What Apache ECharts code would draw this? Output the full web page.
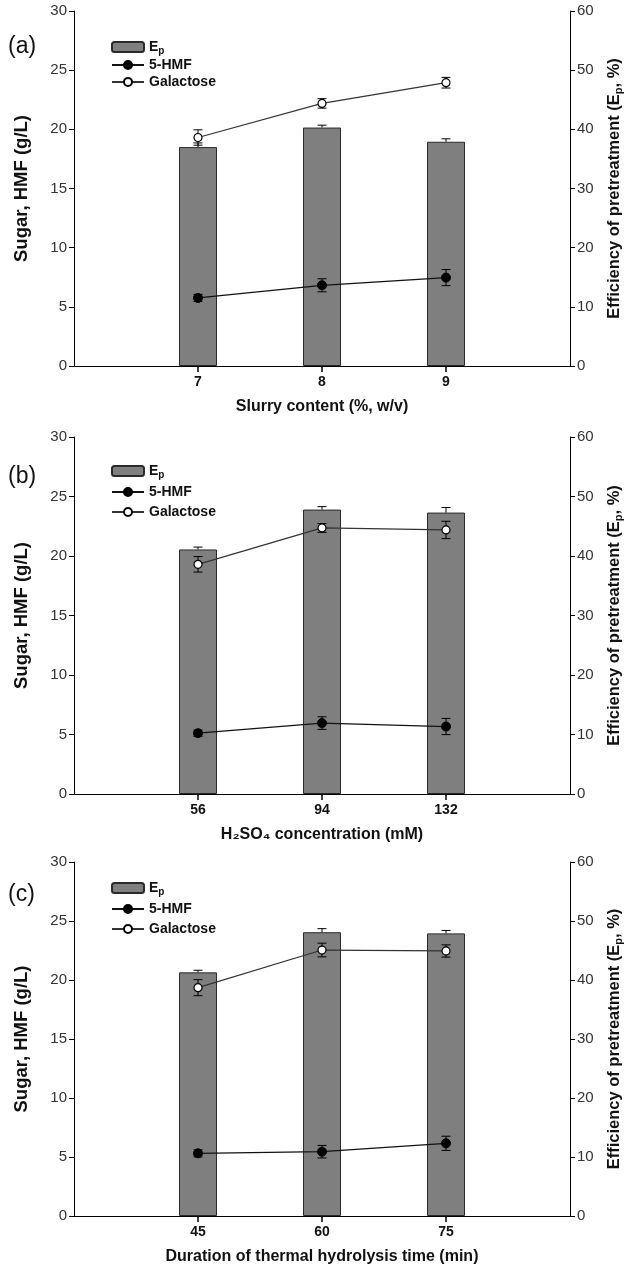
<!DOCTYPE html>
<html><head><meta charset="utf-8">
<script src="https://cdn.jsdelivr.net/npm/echarts@6/dist/echarts.min.js"></script>
<style>html,body{margin:0;padding:0;background:#fff}#c{width:632px;height:1268px}</style>
</head><body><div id="c"></div>
<script>
// ---- data ----
const catA = ['7', '8', '9'];
const catB = ['56', '94', '132'];
const catC = ['45', '60', '75'];
const xNameA = 'Slurry content (%, w/v)';
const xNameB = 'H\u2082SO\u2084 concentration (mM)';
const xNameC = 'Duration of thermal hydrolysis time (min)';
const panelLabels = ['(a)', '(b)', '(c)'];
const leftTicks = [0, 5, 10, 15, 20, 25, 30];
const rightTicks = [0, 10, 20, 30, 40, 50, 60];

const epA = [37.0, 40.3, 37.9];
const epErrA = [0.7, 0.4, 0.5];
const hmfA = [5.75, 6.82, 7.47];
const hmfErrA = [0.3, 0.55, 0.68];
const galA = [19.31, 22.19, 23.94];
const galErrA = [0.65, 0.4, 0.45];

const epB = [41.1, 47.8, 47.3];
const epErrB = [0.4, 0.5, 0.85];
const hmfB = [5.11, 5.96, 5.67];
const hmfErrB = [0.27, 0.53, 0.68];
const galB = [19.3, 22.36, 22.19];
const galErrB = [0.65, 0.37, 0.73];

const epC = [41.3, 48.1, 47.9];
const epErrC = [0.35, 0.6, 0.5];
const hmfC = [5.31, 5.45, 6.16];
const hmfErrC = [0.3, 0.53, 0.6];
const galC = [19.35, 22.54, 22.46];
const galErrC = [0.68, 0.58, 0.52];

// ---- build ----
const FONT = "'Liberation Sans', Arial, sans-serif";
const panels = [
  {cats: catA, xName: xNameA, ep: epA, epErr: epErrA, hmf: hmfA, hmfErr: hmfErrA, gal: galA, galErr: galErrA, top: 11, height: 355, legTop: 39, legGap: 1, lab: 35},
  {cats: catB, xName: xNameB, ep: epB, epErr: epErrB, hmf: hmfB, hmfErr: hmfErrB, gal: galB, galErr: galErrB, top: 437, height: 357, legTop: 463, legGap: 4, lab: 465},
  {cats: catC, xName: xNameC, ep: epC, epErr: epErrC, hmf: hmfC, hmfErr: hmfErrC, gal: galC, galErr: galErrC, top: 862, height: 354, legTop: 880, legGap: 4, lab: 883}
];

const pad = arr => [null].concat(arr, [null]);

function errRender(topOnly) {
  return function (params, api) {
    const x = api.value(0), lo = api.value(1), hi = api.value(2);
    const p1 = api.coord([x, lo]), p2 = api.coord([x, hi]);
    const w = 4.5;
    const st = {stroke: '#000', lineWidth: 1};
    const ch = [
      {type: 'line', shape: {x1: p1[0], y1: p1[1], x2: p2[0], y2: p2[1]}, style: st},
      {type: 'line', shape: {x1: p2[0] - w, y1: p2[1], x2: p2[0] + w, y2: p2[1]}, style: st}
    ];
    if (!topOnly) ch.push({type: 'line', shape: {x1: p1[0] - w, y1: p1[1], x2: p1[0] + w, y2: p1[1]}, style: st});
    return {type: 'group', children: ch};
  };
}

const grid = [], xAxis = [], yAxis = [], series = [], legend = [], graphic = [];
panels.forEach((p, k) => {
  grid.push({left: 74, width: 499, top: p.top, height: p.height});
  xAxis.push({
    type: 'category', gridIndex: k, data: [''].concat(p.cats, ['']), boundaryGap: false,
    axisLine: {lineStyle: {color: '#000', width: 1}},
    axisTick: {length: 6, interval: (i) => i >= 1 && i <= 3, lineStyle: {color: '#000', width: 1.5}},
    axisLabel: {color: '#111', fontFamily: FONT, fontWeight: 'bold', fontSize: 14, margin: 9, interval: 0},
    name: p.xName, nameLocation: 'middle', nameGap: 33,
    nameTextStyle: {color: '#111', fontFamily: FONT, fontWeight: 'bold', fontSize: 16},
    splitLine: {show: false}
  });
  yAxis.push({
    type: 'value', gridIndex: k, position: 'left', min: leftTicks[0], max: leftTicks[leftTicks.length - 1], interval: leftTicks[1] - leftTicks[0],
    axisLine: {show: true, lineStyle: {color: '#000'}},
    axisTick: {show: true, length: 5, lineStyle: {color: '#000'}},
    axisLabel: {color: '#333', fontFamily: "'Liberation Sans Narrow', " + FONT, fontSize: 15, margin: 7},
    splitLine: {show: false},
    name: 'Sugar, HMF (g/L)', nameLocation: 'middle', nameGap: 43, nameRotate: 90,
    nameTextStyle: {color: '#111', fontFamily: FONT, fontWeight: 'bold', fontSize: 18.5}
  });
  yAxis.push({
    type: 'value', gridIndex: k, position: 'right', min: rightTicks[0], max: rightTicks[rightTicks.length - 1], interval: rightTicks[1] - rightTicks[0],
    axisLine: {show: true, lineStyle: {color: '#000'}},
    axisTick: {show: true, length: 5, lineStyle: {color: '#000'}},
    axisLabel: {color: '#333', fontFamily: "'Liberation Sans Narrow', " + FONT, fontSize: 15, margin: 7},
    splitLine: {show: false},
    name: 'Efficiency of pretreatment (E{sub|p}, %)', nameLocation: 'middle', nameGap: 34, nameRotate: 90,
    nameTextStyle: {color: '#111', fontFamily: FONT, fontWeight: 'bold', fontSize: 16.5,
      rich: {sub: {fontFamily: FONT, fontWeight: 'bold', fontSize: 11, color: '#111', padding: [9, 0, 0, 0]}}}
  });
  const yl = 2 * k, yr = 2 * k + 1;
  series.push({
    name: 'Ep', type: 'bar', xAxisIndex: k, yAxisIndex: yr, barWidth: 38, z: 2,
    itemStyle: {color: '#7f7f7f', borderColor: '#2a2a2a', borderWidth: 1},
    data: pad(p.ep)
  });
  series.push({
    type: 'custom', xAxisIndex: k, yAxisIndex: yr, z: 3, renderItem: errRender(true),
    encode: {x: 0, y: [1, 2]},
    data: p.ep.map((v, i) => [i + 1, v, v + p.epErr[i]])
  });
  series.push({
    name: '5-HMF', type: 'line', xAxisIndex: k, yAxisIndex: yl, z: 5,
    symbol: 'circle', symbolSize: 9, showAllSymbol: true,
    lineStyle: {color: '#111', width: 1.2},
    itemStyle: {color: '#000', borderColor: '#000', borderWidth: 1},
    data: pad(p.hmf)
  });
  series.push({
    type: 'custom', xAxisIndex: k, yAxisIndex: yl, z: 4, renderItem: errRender(false),
    encode: {x: 0, y: [1, 2]},
    data: p.hmf.map((v, i) => [i + 1, v - p.hmfErr[i], v + p.hmfErr[i]])
  });
  series.push({
    name: 'Galactose', type: 'line', xAxisIndex: k, yAxisIndex: yl, z: 5,
    symbol: 'circle', symbolSize: 8, showAllSymbol: true,
    lineStyle: {color: '#333', width: 1.2},
    itemStyle: {color: '#fff', borderColor: '#000', borderWidth: 1.2},
    data: pad(p.gal)
  });
  series.push({
    type: 'custom', xAxisIndex: k, yAxisIndex: yl, z: 4, renderItem: errRender(false),
    encode: {x: 0, y: [1, 2]},
    data: p.gal.map((v, i) => [i + 1, v - p.galErr[i], v + p.galErr[i]])
  });
  legend.push({
    left: 111, top: p.legTop, orient: 'vertical', padding: 0, itemGap: p.legGap,
    itemWidth: 32, itemHeight: 10, selectedMode: false,
    data: ['Ep', '5-HMF', 'Galactose'],
    formatter: n => n === 'Ep' ? 'E{sub|p}' : n,
    textStyle: {color: '#111', fontFamily: FONT, fontWeight: 'bold', fontSize: 14, lineHeight: 16,
      rich: {sub: {fontFamily: FONT, fontWeight: 'bold', fontSize: 10, color: '#111', padding: [8, 0, 0, 0]}}}
  });
  graphic.push({
    type: 'text', left: 8, top: p.lab,
    style: {text: panelLabels[k], font: '23px ' + FONT, fill: '#111'}
  });
});

const chart = echarts.init(document.getElementById('c'), null, {renderer: 'canvas'});
chart.setOption({
  animation: false,
  backgroundColor: '#fff',
  grid, xAxis, yAxis, series, legend, graphic,
  tooltip: {show: false}
});
</script></body></html>
